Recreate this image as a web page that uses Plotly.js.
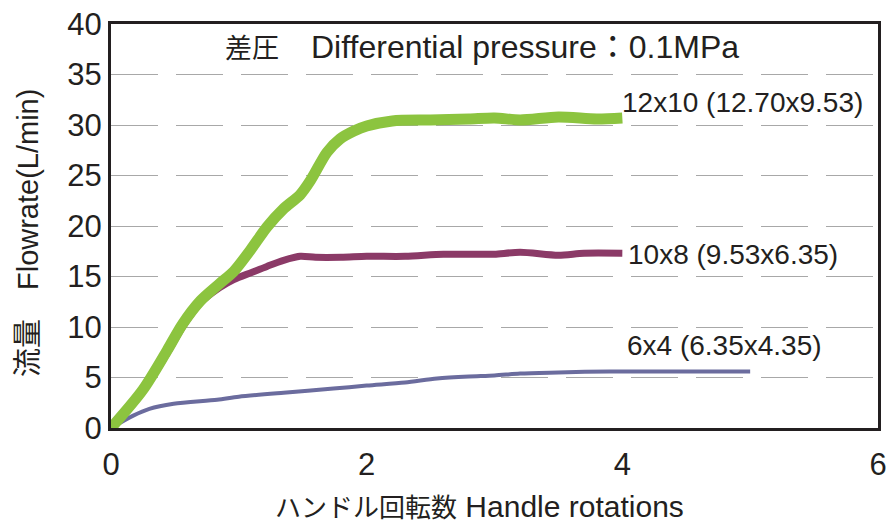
<!DOCTYPE html>
<html>
<head>
<meta charset="utf-8">
<script src="https://cdn.plot.ly/plotly-3.0.1.min.js"></script>
<style>html,body{margin:0;padding:0;background:#fff;}#chart{width:892px;height:522px;}</style>
</head>
<body>
<div id="chart"></div>
<script>
// Series: 12x10 (12.70x9.53)
const x12 = [0, 0.25, 0.44, 0.56, 0.7, 0.85, 0.96, 1.09, 1.22, 1.35, 1.48, 1.56, 1.69, 1.79, 1.9, 2.0, 2.2, 2.5, 2.8, 3.0, 3.2, 3.5, 3.8, 4.0];
const y12 = [0, 3.8, 7.7, 10.3, 12.6, 14.3, 15.5, 17.6, 19.9, 21.7, 23.1, 24.5, 27.3, 28.6, 29.4, 29.9, 30.4, 30.5, 30.6, 30.7, 30.5, 30.8, 30.6, 30.7];
// Series: 10x8 (9.53x6.35)
const x10 = [0, 0.25, 0.44, 0.56, 0.7, 0.85, 0.96, 1.1, 1.22, 1.35, 1.48, 1.6, 1.8, 2.0, 2.3, 2.6, 2.9, 3.0, 3.2, 3.5, 3.7, 4.0];
const y10 = [0, 3.6, 7.4, 10.0, 12.4, 13.9, 14.7, 15.4, 16.0, 16.6, 17.0, 16.9, 16.9, 17.0, 17.0, 17.2, 17.2, 17.2, 17.4, 17.1, 17.3, 17.3];
// Series: 6x4 (6.35x4.35)
const x6 = [0, 0.17, 0.3, 0.49, 0.83, 1.0, 1.35, 1.74, 2.0, 2.3, 2.55, 2.8, 3.0, 3.2, 3.5, 3.9, 4.3, 4.7, 5.0];
const y6 = [0, 1.2, 1.9, 2.4, 2.8, 3.1, 3.5, 3.9, 4.2, 4.5, 4.9, 5.1, 5.2, 5.4, 5.5, 5.6, 5.6, 5.6, 5.6];

const seriesNames = ['12x10 (12.70x9.53)', '10x8 (9.53x6.35)', '6x4 (6.35x4.35)'];
const xTicks = [0, 2, 4, 6];
const yTicks = [0, 5, 10, 15, 20, 25, 30, 35, 40];

const titleJa = '差圧';
const titleEn = 'Differential pressure：0.1MPa';
const xTitleJa = 'ハンドル回転数';
const xTitleEn = 'Handle rotations';
const yTitleJa = '流量';
const yTitleEn = 'Flowrate(L/min)';

const txtColor = '#231f20';
const baseFont = 'Liberation Sans, Arial, Noto Sans CJK JP, sans-serif';

const traces = [
  {x: x6, y: y6, name: seriesNames[2], mode: 'lines', line: {color: '#6b6c9e', width: 4, shape: 'spline', smoothing: 0.8}},
  {x: x10, y: y10, name: seriesNames[1], mode: 'lines', line: {color: '#8b3a67', width: 7, shape: 'spline', smoothing: 0.8}},
  {x: x12, y: y12, name: seriesNames[0], mode: 'lines', line: {color: '#8cc43f', width: 11, shape: 'spline', smoothing: 0.8}}
];

const layout = {
  width: 892, height: 522,
  margin: {l: 111, r: 14, t: 24, b: 94},
  paper_bgcolor: '#ffffff', plot_bgcolor: '#ffffff',
  showlegend: false,
  font: {family: baseFont, color: txtColor},
  xaxis: {
    range: [0, 6], tickvals: xTicks, ticktext: xTicks.map(String),
    showgrid: false, zeroline: false,
    showline: true, mirror: true, linecolor: txtColor, linewidth: 3,
    ticks: 'outside', ticklen: 7, tickcolor: 'rgba(0,0,0,0)',
    tickfont: {size: 31, color: txtColor, family: baseFont}
  },
  yaxis: {
    range: [0, 40], tickvals: yTicks, ticktext: yTicks.map(String),
    showgrid: true, gridcolor: '#a8a8a8', gridwidth: 1, griddash: '47px,18px',
    zeroline: false,
    showline: true, mirror: true, linecolor: txtColor, linewidth: 3,
    ticks: '',
    tickfont: {size: 31, color: txtColor, family: baseFont}
  },
  annotations: [
    {text: '<span style="font-size:27px">' + titleJa + '</span>　' + titleEn, xref: 'paper', yref: 'paper', x: 0.484, y: 0.942, xanchor: 'center', yanchor: 'middle', showarrow: false,
     font: {size: 32, color: txtColor, family: baseFont}},
    {text: seriesNames[0], xref: 'x', yref: 'y', x: 3.98, y: 32.2, xanchor: 'left', yanchor: 'middle', showarrow: false,
     font: {size: 28, color: txtColor, family: baseFont}},
    {text: seriesNames[1], xref: 'x', yref: 'y', x: 4.03, y: 17.2, xanchor: 'left', yanchor: 'middle', showarrow: false,
     font: {size: 28, color: txtColor, family: baseFont}},
    {text: seriesNames[2], xref: 'x', yref: 'y', x: 4.02, y: 8.2, xanchor: 'left', yanchor: 'middle', showarrow: false,
     font: {size: 28, color: txtColor, family: baseFont}},
    {text: '<span style="font-size:26px">' + xTitleJa + '</span> ' + xTitleEn, xref: 'paper', yref: 'paper', x: 0.481, y: -0.195, xanchor: 'center', yanchor: 'middle', showarrow: false,
     font: {size: 30, color: txtColor, family: baseFont}},
    {text: yTitleJa + '　' + yTitleEn, xref: 'paper', yref: 'paper', x: -0.108, y: 0.483, xanchor: 'center', yanchor: 'middle', showarrow: false, textangle: -90,
     font: {size: 29, color: txtColor, family: baseFont}}
  ]
};

Plotly.newPlot('chart', traces, layout, {displayModeBar: false, staticPlot: true});
</script>
</body>
</html>
